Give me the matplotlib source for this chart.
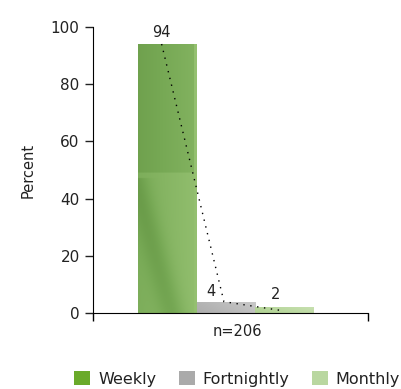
import numpy as np
import matplotlib.pyplot as plt
from matplotlib.colors import LinearSegmentedColormap
from matplotlib.patches import Patch

categories = ['Weekly', 'Fortnightly', 'Monthly']
values = [94, 4, 2]
legend_colors = ['#6aaa2a', '#aaaaaa', '#b9d7a0']
sample_label = 'n=206'

fig = plt.figure(figsize=(4.02, 3.89), dpi=100)
ax = fig.add_axes([0.231, 0.195, 0.684, 0.736])

x = np.arange(len(categories))
bars = ax.bar(x, values, width=1.0, color='none', edgecolor='none')

# shaded fills for each bar, clipped to the bar rectangles
shades = [
    ['#5e8f3e', '#77a955', '#94c070'],
    ['#a2a2a2', '#b4b4b4', '#c9c9c9'],
    ['#a9cc8c', '#b6d69a', '#c7e0b0'],
]
gx, gy = np.meshgrid(np.linspace(0, 1, 60), np.linspace(0, 1, 200))
for i, bar in enumerate(bars):
    cmap = LinearSegmentedColormap.from_list('shade%d' % i, shades[i])
    if i == 0:
        field = 0.35 + 0.35 * gx + 0.25 * (gy < 0.52) \
            - 0.35 * np.exp(-((gx - 0.25 + 1.3 * (gy - 0.25)) ** 2) / 0.05) * (gy < 0.5)
        field[:, -3:] = 1.0
    else:
        field = 0.3 + 0.5 * gx + 0.2 * gy
    im = ax.imshow(np.clip(field, 0, 1), cmap=cmap, vmin=0, vmax=1, origin='lower',
                   extent=[bar.get_x(), bar.get_x() + bar.get_width(), 0, bar.get_height()],
                   aspect='auto', interpolation='bilinear', zorder=1)
    im.set_clip_path(bar)

# dotted line joining the values
ax.plot([-0.1, 0.97, 1.93], [values[0], values[1], values[2] - 1],
        linestyle=(0, (1, 4)), color='black', linewidth=1.0, zorder=3)

label_pos = [(-0.11, values[0] + 4), (0.74, values[1] + 3.5), (1.86, values[2] + 4.5)]
for (lx, ly), v in zip(label_pos, values):
    ax.text(lx, ly, str(v), ha='center', va='center', fontsize=10.5, color='#222222')

ax.set_xlim(-1.28, 3.44)
ax.set_ylim(0, 100)
ax.set_yticks(range(0, 101, 20))
ax.tick_params(axis='y', labelsize=11, length=6, width=1, colors='#222222')
ax.set_xticks([-1.28, 3.44])
ax.set_xticklabels([])
ax.tick_params(axis='x', which='major', length=6, width=1)
ax.set_xticks([1.2], minor=True)
ax.set_xticklabels([sample_label], minor=True, fontsize=10.5, color='#222222')
ax.tick_params(axis='x', which='minor', length=0, pad=8)
ax.set_ylabel('Percent', fontsize=10.5, color='#222222', labelpad=11)

for s in ['top', 'right']:
    ax.spines[s].set_visible(False)

handles = [Patch(facecolor=c, edgecolor='none') for c in legend_colors]
fig.legend(handles, categories, loc='center', bbox_to_anchor=(0.59, 0.026), ncol=3,
           frameon=False, fontsize=11.5, handlelength=1.0, handleheight=1.0,
           handletextpad=0.5, columnspacing=1.4, labelcolor='#222222')

fig.savefig('out.png', dpi=100)
